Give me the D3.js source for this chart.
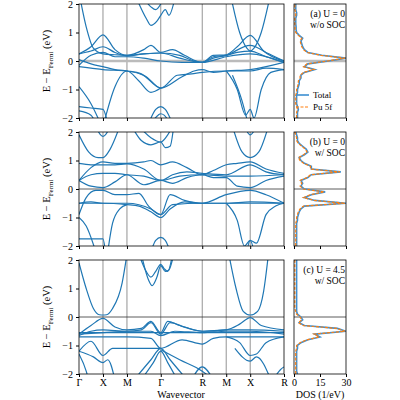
<!DOCTYPE html>
<html><head><meta charset="utf-8">
<script src="https://cdn.jsdelivr.net/npm/d3@7"></script>
<style>body{margin:0;background:#fff}svg{font-family:"Liberation Serif",serif}</style>
</head><body><svg id="c" width="400" height="400"></svg>
<script>
// high-symmetry path
var kLabels = ["Γ","X","M","Γ","R","M","X","R"];
var kPos = [0, 1, 2, 3.41, 5.14, 6.14, 7.14, 8.55];

// bands, [k, E] pairs
var bandsA = [
  [[0,2.4],[0.3,1.2],[0.6,0.45],[1,0.25],[1.5,0.22],[2,0.2],[2.7,0.25],[3.41,0.28],[4.2,0.2],[4.8,0.0],[5.14,-0.05],[5.6,0.15],[6.14,0.2],[6.6,0.3],[7.14,0.35],[7.8,0.15],[8.55,-0.05]],
  [[0,0.25],[0.5,0.5],[1,0.92],[1.5,0.4],[2,0.2],[2.7,0.4],[3.0,0.55],[3.41,0.3],[3.9,0.4],[4.4,0.2],[5.14,-0.05],[5.6,0.2],[6.14,0.22],[6.6,0.5],[7.14,0.9],[7.7,0.35],[8.55,0.0]],
  [[0,0.25],[0.5,0.35],[1,0.5],[1.5,0.3],[2,0.18],[2.7,0.25],[3.41,0.28],[4.2,0.1],[5.14,-0.05],[5.6,0.1],[6.14,0.2],[7.14,0.55],[7.8,0.3],[8.55,0.0]],
  [[0,-0.15],[0.5,0.2],[1,0.3],[1.5,0.15],[2,0.15],[2.7,0.1],[3.41,0.0],[4.3,-0.05],[5.14,-0.05],[6.14,0.15],[7.14,0.25],[8.55,-0.05]],
  [[0,0.05],[0.5,-0.1],[1,-0.2],[1.5,-0.3],[2,-0.35],[2.6,-0.45],[3.41,-0.95],[4.3,-0.55],[4.8,-0.35],[5.14,-0.3],[5.6,-0.4],[6.14,-0.35],[7.14,-0.3],[8.55,-0.05]],
  [[0,-0.2],[0.5,-0.25],[1,-0.3],[2,-0.35],[2.8,-0.55],[3.41,-0.95],[4.1,-0.5],[4.7,-0.45],[5.14,-0.4],[6.14,-0.35],[7.14,-0.35],[7.8,-0.25],[8.55,-0.3]],
  [[1,-2.3],[1.5,-0.9],[2,-0.35],[2.5,-0.7],[3.0,-1.1],[3.41,-0.95]],
  [[0,-0.9],[0.5,-1.5],[0.9,-2.2]],
  [[0,-1.6],[0.5,-1.65],[1,-1.7],[1.2,-2.2]],
  [[0,-1.75],[0.5,-1.9],[0.7,-2.2]],
  [[2.9,-2.2],[3.2,-1.7],[3.41,-1.6],[3.6,-1.7],[3.9,-2.2]],
  [[3.0,-2.2],[3.3,-1.9],[3.41,-1.85],[3.55,-1.9],[3.8,-2.2]],
  [[2.4,2.2],[2.8,1.5],[3.0,1.25],[3.25,1.4],[3.41,1.6],[3.6,1.8],[3.75,1.6],[4.0,2.2]],
  [[2.7,2.2],[3.0,1.9],[3.2,1.8],[3.41,2.0]],
  [[6.35,2.2],[6.7,1.0],[7.0,0.45],[7.14,0.35],[7.3,0.45],[7.6,1.0],[7.95,2.2]],
  [[6.14,-0.35],[6.6,-1.0],[6.95,-1.9],[7.14,-1.7],[7.3,-2.0],[7.6,-1.0],[8.0,-0.4],[8.55,-0.3]],
  [[6.4,-0.5],[6.8,-1.4],[7.05,-2.2]]
];
var bandsB = [
  [[0,0.3],[0.5,0.75],[1,0.95],[1.5,0.9],[2,0.9],[2.7,0.95],[3.0,1.0],[3.41,0.85],[3.9,0.95],[4.5,0.75],[5.14,0.5],[5.6,0.65],[6.14,0.85],[6.6,0.9],[7.14,0.95],[7.8,0.7],[8.55,0.55]],
  [[0,0.9],[0.5,0.85],[1,0.85],[1.5,0.85],[2,0.88],[2.7,0.7],[3.41,0.3],[3.9,0.5],[4.5,0.6],[5.14,0.55],[6.14,0.5],[7.14,0.85],[7.8,0.6],[8.55,0.5]],
  [[0,0.3],[0.5,0.5],[1,0.55],[1.5,0.55],[2,0.5],[2.7,0.45],[3.41,0.3],[4.2,0.45],[5.14,0.5],[6.14,0.45],[7.14,0.45],[8.55,0.5]],
  [[0,0.3],[0.5,0.1],[1,0.05],[1.5,0.25],[2,0.5],[2.7,0.15],[3.41,0.3],[3.9,0.2],[4.5,0.4],[5.14,0.5],[5.6,0.4],[6.14,0.4],[6.6,0.1],[7.14,0.05],[7.8,0.3],[8.55,0.45]],
  [[0,-0.9],[0.3,-0.3],[0.7,-0.05],[1,-0.05],[1.5,-0.2],[2,-0.2],[2.5,-0.15],[2.9,-0.6],[3.41,-0.9],[3.8,-0.2],[4.4,-0.4],[5.14,-0.5],[6.14,-0.2],[7.14,-0.05],[7.8,-0.2],[8.55,-0.5]],
  [[0,-0.5],[0.5,-0.5],[1,-0.5],[2,-0.55],[2.5,-0.6],[3.0,-0.8],[3.41,-1.0],[3.8,-0.7],[4.4,-0.45],[5.14,-0.5],[6.14,-0.5],[7.14,-0.5],[8.55,-0.5]],
  [[0,-0.5],[0.5,-0.45],[1,-0.5],[2,-0.5],[3.0,-0.7],[3.41,-0.9],[3.9,-0.55],[5.14,-0.5],[6.14,-0.5],[7.14,-0.45],[8.55,-0.5]],
  [[0,1.9],[0.4,1.3],[0.8,1.1],[1,1.1],[1.3,1.4],[1.7,2.2]],
  [[0.7,2.2],[0.9,1.9],[1,1.85],[1.1,1.9],[1.3,2.2]],
  [[2.2,2.2],[2.6,1.7],[3.0,1.55],[3.41,1.65],[3.6,1.45],[3.8,1.5],[3.95,2.2]],
  [[2.5,2.2],[3.0,1.8],[3.41,1.65],[3.7,1.9],[3.9,2.2]],
  [[6.4,2.2],[6.8,1.3],[7.14,1.1],[7.5,1.3],[7.9,2.2]],
  [[6.9,2.2],[7.14,1.9],[7.4,2.2]],
  [[6.14,-0.5],[6.6,-1.1],[6.9,-2.0],[7.14,-1.8],[7.3,-2.2]],
  [[7.0,-2.2],[7.14,-1.8],[7.4,-1.9],[7.8,-0.9],[8.2,-0.6],[8.55,-0.5]],
  [[0,-1.0],[0.3,-1.3],[0.7,-2.2]],
  [[0,-1.75],[0.5,-1.75],[1,-1.75],[1.1,-2.2]],
  [[1.2,-2.2],[1.4,-1.2],[1.7,-0.7],[2,-0.55]],
  [[3.0,-2.2],[3.2,-1.8],[3.41,-1.7],[3.6,-1.8],[3.8,-2.2]]
];
var bandsC = [
  [[0,1.9],[0.3,1.0],[0.6,0.3],[0.85,0.08],[1,0.07],[1.15,0.08],[1.4,0.3],[1.8,1.2],[2,2.2]],
  [[6.25,2.2],[6.55,1.0],[6.85,0.2],[7.14,0.07],[7.45,0.2],[7.7,0.9],[7.9,2.2]],
  [[2.5,2.2],[2.8,1.6],[3.0,1.4],[3.2,1.6],[3.41,1.85],[3.55,1.7],[3.7,1.6],[3.9,2.2]],
  [[2.6,2.2],[2.9,1.3],[3.05,1.1],[3.25,1.4],[3.41,1.8],[3.6,1.6],[3.75,1.65],[3.95,2.2]],
  [[0,-0.6],[0.5,-0.3],[1,-0.05],[1.5,-0.35],[2,-0.45],[2.6,-0.4],[3.0,-0.15],[3.41,-0.55],[3.7,-0.15],[4.2,-0.3],[5.14,-0.5],[6.14,-0.45],[6.7,-0.25],[7.14,-0.02],[7.6,-0.3],[8.55,-0.45]],
  [[0,-0.65],[0.5,-0.5],[1,-0.45],[2,-0.5],[2.6,-0.45],[3.0,-0.2],[3.41,-0.6],[3.8,-0.2],[4.4,-0.35],[5.14,-0.5],[6.14,-0.45],[7.14,-0.45],[8.55,-0.5]],
  [[0,-0.55],[1,-0.55],[2,-0.55],[3.41,-0.55],[5.14,-0.55],[7.14,-0.55],[8.55,-0.55]],
  [[0,-0.6],[1,-0.55],[2,-0.5],[3.0,-0.5],[3.41,-0.65],[4,-0.5],[5.14,-0.55],[6.14,-0.5],[7.14,-0.5],[8.55,-0.6]],
  [[0,-0.7],[0.5,-0.7],[1,-0.7],[2,-0.7],[3.0,-0.75],[3.41,-1.1],[4.3,-0.8],[5.14,-0.95],[5.6,-0.75],[6.14,-0.7],[7.14,-0.7],[8.55,-0.7]],
  [[0,-1.2],[0.5,-0.85],[1,-1.35],[1.4,-1.1],[2,-1.1],[2.7,-1.1],[3.41,-1.1]],
  [[0,-1.2],[0.6,-1.4],[1,-1.6],[1.2,-1.5],[1.5,-2.2]],
  [[0,-1.3],[0.3,-1.9],[0.4,-2.2]],
  [[2.3,-2.2],[3.0,-1.5],[3.41,-1.1],[3.8,-1.5],[4.5,-2.2]],
  [[2.6,-2.2],[3.1,-1.6],[3.41,-1.2],[3.7,-1.6],[4.1,-2.2]],
  [[3.41,-1.15],[4.2,-1.5],[5.14,-1.9],[5.6,-2.2]],
  [[4.7,-2.2],[5.14,-1.75],[5.6,-2.2]],
  [[6.14,-0.7],[6.7,-0.9],[7.14,-1.35],[7.4,-1.3],[7.8,-0.9],[8.55,-0.7]],
  [[6.5,-1.1],[7.14,-1.55],[7.4,-1.4],[8.0,-2.2]],
  [[8.1,-2.2],[8.4,-1.85],[8.55,-1.75]]
];

// DOS on an energy grid -2..2 eV
var dosE = d3.range(41).map(function(i){ return -2 + i * 0.1; });
var dosTotalA = [2,2,2,2.5,2,1.5,1.5,1.5,1.5,2,2,2.5,3,3,4,4,6,12,6,8,20,30,16,8,6,5,4.5,4,5,3,1.5,1.2,1.2,1,1,1,1.5,1.5,1,1,1];
var dosFA     = [1.5,1.5,1.5,2,1.5,1,1,1,1,1.5,1.5,2,2.5,2.5,3.5,3.5,5.5,11.5,5.5,7.5,19.5,29.5,15.5,7.5,5.5,4.5,4,3.5,4.5,2.5,1,0.7,0.7,0.5,0.5,0.5,1,1,0.5,0.5,0.5];
var dosTotalB = [1.5,1.5,1.5,1.5,1.5,1.5,1.5,1.5,1.5,2,2,2.5,3,4,6,30,12,6,10,18,6,4,5,4,8,10,27,10,10,6,4,3,6,8,7,5,3,2,2,1.5,1];
var dosFB     = [1,1,1,1,1,1,1,1,1,1.5,1.5,2,2.5,3.5,5.5,29.5,11.5,5.5,9.5,17.5,5.5,3.5,4.5,3.5,7.5,9.5,26.5,9.5,9.5,5.5,3.5,2.5,5.5,7.5,6.5,4.5,2.5,1.5,1.5,1,0.5];
var dosTotalC = [2,1.5,1.5,1.5,1.5,1.5,1.5,1.5,1.5,2,2,4,8,15,12,30,25,6,3,5,4,2,1.5,1.5,1.5,1.5,1.5,1.5,1.5,1.5,1.5,1.5,1.5,1.5,1.5,1.5,1.5,1.5,1.5,1.5,1.5];
var dosFC     = [1,1,1,1,1,1,1,1,1,1.5,1.5,3.5,7.5,14.5,11.5,29.5,24.5,5.5,2.5,4.5,3.5,1.5,1,0.5,0.5,0.5,0.5,0.5,0.5,0.5,0.5,0.5,0.5,0.5,0.5,0.5,0.5,0.5,0.5,0.5,0.5];

var yTicks = [2,1,0,-1,-2];
var dosTicks = [0,15,30];

var panels = [
  {bands: bandsA, tot: dosTotalA, f: dosFA, top: 4, lab: ["(a) U = 0","w/o SOC"], zeroGray: true, legend: true},
  {bands: bandsB, tot: dosTotalB, f: dosFB, top: 132, lab: ["(b) U = 0","w/ SOC"]},
  {bands: bandsC, tot: dosTotalC, f: dosFC, top: 260, lab: ["(c) U = 4.5","w/ SOC"], bottom: true}
];

var svg = d3.select("#c");
var blue = "#1f77b4", orange = "#ff7f0e";
var x = d3.scaleLinear().domain([0, 8.55]).range([79, 284]);
var xd = d3.scaleLinear().domain([0, 30]).range([294, 346]);
var uid = 0;

panels.forEach(function(p){
  var y = d3.scaleLinear().domain([-2, 2]).range([p.top + 114, p.top]);
  var g = svg.append("g");
  var id = "clip" + (uid++), id2 = "clip" + (uid++);
  g.append("clipPath").attr("id", id).append("rect")
    .attr("x", 79).attr("y", p.top).attr("width", 205).attr("height", 114);
  g.append("clipPath").attr("id", id2).append("rect")
    .attr("x", 294).attr("y", p.top).attr("width", 52).attr("height", 114);

  // k lines
  g.selectAll(".kl").data(kPos.slice(1, -1)).enter().append("line")
    .attr("x1", x).attr("x2", x).attr("y1", p.top).attr("y2", p.top + 114)
    .attr("stroke", "#777").attr("stroke-width", 0.8);
  g.append("line").attr("x1", 79).attr("x2", 284).attr("y1", y(0)).attr("y2", y(0))
    .attr("stroke", p.zeroGray ? "#bbb" : "#333").attr("stroke-width", p.zeroGray ? 2.5 : 0.8);
  g.append("line").attr("x1", 294).attr("x2", 346).attr("y1", y(0)).attr("y2", y(0))
    .attr("stroke", p.zeroGray ? "#bbb" : "#333").attr("stroke-width", p.zeroGray ? 2.5 : 0.8);

  var line = d3.line().x(function(d){ return x(d[0]); }).y(function(d){ return y(d[1]); })
    .curve(d3.curveMonotoneX);
  g.append("g").attr("clip-path", "url(#" + id + ")").selectAll("path").data(p.bands).enter()
    .append("path").attr("d", line).attr("fill", "none").attr("stroke", blue).attr("stroke-width", 1.2);

  // DOS
  var dl = d3.line().x(function(d){ return xd(d[1]); }).y(function(d){ return y(d[0]); });
  var dg = g.append("g").attr("clip-path", "url(#" + id2 + ")");
  dg.append("path").attr("d", dl(d3.zip(dosE, p.tot))).attr("fill", "none")
    .attr("stroke", "#3d8fd1").attr("stroke-width", 1.6);
  dg.append("path").attr("d", dl(d3.zip(dosE, p.f))).attr("fill", "none")
    .attr("stroke", orange).attr("stroke-width", 1.2).attr("stroke-dasharray", "3,1.5");

  // frames
  g.append("rect").attr("x", 79).attr("y", p.top).attr("width", 205).attr("height", 114)
    .attr("fill", "none").attr("stroke", "#000").attr("stroke-width", 0.8);
  g.append("rect").attr("x", 294).attr("y", p.top).attr("width", 52).attr("height", 114)
    .attr("fill", "none").attr("stroke", "#000").attr("stroke-width", 0.8);

  // y axis
  var ya = g.append("g").attr("transform", "translate(79,0)")
    .call(d3.axisLeft(y).tickValues(yTicks).tickSize(3).tickFormat(function(d){ return d < 0 ? "−" + (-d) : d; }));
  ya.select(".domain").remove();
  ya.selectAll("text").attr("font-size", 10).attr("font-family", "Liberation Serif");
  var yl = g.append("text").attr("transform", "translate(50," + (p.top + 57) + ") rotate(-90)")
    .attr("text-anchor", "middle").attr("font-size", 10.5);
  yl.append("tspan").text("E − E");
  yl.append("tspan").attr("font-size", 7).attr("dy", 2.5).text("Fermi");
  yl.append("tspan").attr("dy", -2.5).text(" (eV)");

  g.append("text").attr("x", 345).attr("y", p.top + 13).attr("text-anchor", "end")
    .attr("font-size", 9.5).text(p.lab[0]);
  g.append("text").attr("x", 345).attr("y", p.top + 24).attr("text-anchor", "end")
    .attr("font-size", 9.5).text(p.lab[1]);

  if (p.legend) {
    g.append("line").attr("x1", 296).attr("x2", 309).attr("y1", 95).attr("y2", 95)
      .attr("stroke", "#3d8fd1").attr("stroke-width", 1.6);
    g.append("line").attr("x1", 296).attr("x2", 309).attr("y1", 107).attr("y2", 107)
      .attr("stroke", orange).attr("stroke-width", 1.2).attr("stroke-dasharray", "3,1.5");
    g.append("text").attr("x", 313).attr("y", 98).attr("font-size", 9).text("Total");
    g.append("text").attr("x", 313).attr("y", 110).attr("font-size", 9).text("Pu 5f");
  }

  var xa = g.append("g").attr("transform", "translate(0," + (p.top + 114) + ")")
    .call(d3.axisBottom(x).tickValues(kPos).tickSize(3).tickPadding(2).tickFormat(function(d, i){ return p.bottom ? kLabels[i] : ""; }));
  xa.select(".domain").remove();
  xa.selectAll("text").attr("font-size", 10).attr("font-family", "Liberation Serif");
  var xb = g.append("g").attr("transform", "translate(0," + (p.top + 114) + ")")
    .call(d3.axisBottom(xd).tickValues(dosTicks).tickSize(3).tickPadding(2).tickFormat(function(d){ return p.bottom ? d : ""; }));
  xb.select(".domain").remove();
  xb.selectAll("text").attr("font-size", 10).attr("font-family", "Liberation Serif");
});

svg.append("text").attr("x", 181).attr("y", 398).attr("text-anchor", "middle").attr("font-size", 10).text("Wavevector");
svg.append("text").attr("x", 320).attr("y", 398).attr("text-anchor", "middle").attr("font-size", 10).text("DOS (1/eV)");
</script></body></html>
